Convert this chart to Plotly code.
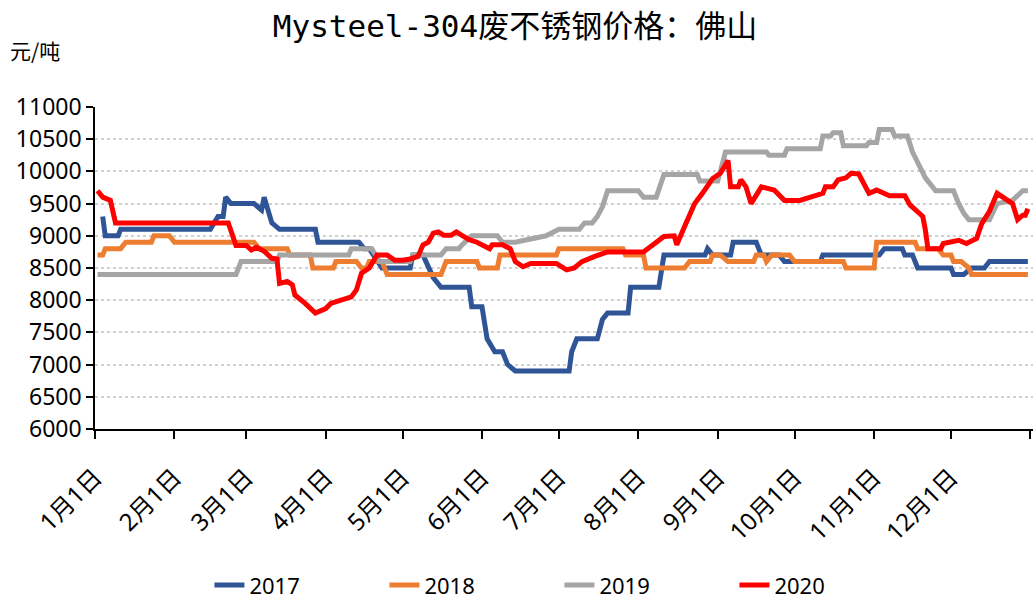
"""
Mysteel-304废不锈钢价格：佛山（2017-2020 同期对比）
"""

import plotly.graph_objects as go

# 各年份统一映射到同一(非闰)年，便于按月日对齐
AXIS_YEAR = 2001

DATES_2017 = [
    "01-04", "01-05", "01-10", "01-11", "02-15", "02-18", "02-20", "02-21",
    "02-23", "03-04", "03-07", "03-08", "03-11", "03-14", "03-28", "03-29",
    "04-14", "04-16", "04-18", "04-21", "04-23", "05-04", "05-05", "05-09",
    "05-13", "05-16", "05-27", "05-28", "06-01", "06-03", "06-06", "06-09",
    "06-11", "06-14", "07-05", "07-06", "07-08", "07-16", "07-18", "07-20",
    "07-28", "07-29", "08-09", "08-11", "08-27", "08-28", "08-30", "09-06",
    "09-07", "09-16", "09-18", "09-25", "09-27", "10-11", "10-12", "11-03",
    "11-05", "11-12", "11-13", "11-16", "11-18", "12-01", "12-02", "12-06",
    "12-09", "12-14", "12-16", "12-31",
]
PRICE_2017 = [
    9300, 9000, 9000, 9100, 9100, 9300, 9300, 9600,
    9500, 9500, 9400, 9600, 9200, 9100, 9100, 8900,
    8900, 8800, 8800, 8600, 8500, 8500, 8700, 8700,
    8350, 8200, 8200, 7900, 7900, 7400, 7200, 7200,
    7000, 6900, 6900, 7200, 7400, 7400, 7700, 7800,
    7800, 8200, 8200, 8700, 8700, 8800, 8700, 8700,
    8900, 8900, 8700, 8700, 8600, 8600, 8700, 8700,
    8800, 8800, 8700, 8700, 8500, 8500, 8400, 8400,
    8500, 8500, 8600, 8600,
]

DATES_2018 = [
    "01-02", "01-04", "01-05", "01-11", "01-13", "01-23", "01-24", "01-30",
    "02-01", "03-04", "03-06", "03-17", "03-18", "03-26", "03-27", "04-04",
    "04-05", "04-13", "04-15", "04-17", "04-18", "04-23", "04-25", "05-16",
    "05-18", "05-30", "05-31", "06-07", "06-08", "06-30", "07-01", "07-26",
    "07-27", "08-03", "08-04", "08-19", "08-21", "08-29", "08-30", "09-02",
    "09-05", "09-15", "09-16", "09-19", "09-20", "09-22", "09-29", "10-01",
    "10-20", "10-21", "11-01", "11-02", "11-17", "11-18", "11-26", "11-28",
    "12-01", "12-02", "12-05", "12-08", "12-09", "12-31",
]
PRICE_2018 = [
    8700, 8700, 8800, 8800, 8900, 8900, 9000, 9000,
    8900, 8900, 8800, 8800, 8700, 8700, 8500, 8500,
    8600, 8600, 8500, 8500, 8600, 8600, 8400, 8400,
    8600, 8600, 8500, 8500, 8700, 8700, 8800, 8800,
    8700, 8700, 8500, 8500, 8600, 8600, 8700, 8700,
    8600, 8600, 8700, 8700, 8600, 8700, 8700, 8600,
    8600, 8500, 8500, 8900, 8900, 8800, 8800, 8700,
    8700, 8600, 8600, 8500, 8400, 8400,
]

DATES_2019 = [
    "01-02", "02-25", "02-27", "03-13", "03-14", "04-10", "04-11", "04-19",
    "04-22", "05-04", "05-05", "05-16", "05-18", "05-23", "05-24", "05-28",
    "06-07", "06-09", "06-14", "06-21", "06-26", "07-01", "07-09", "07-11",
    "07-14", "07-16", "07-18", "07-20", "08-01", "08-03", "08-08", "08-11",
    "08-24", "08-25", "09-01", "09-04", "09-20", "09-21", "09-27", "09-28",
    "10-11", "10-12", "10-15", "10-16", "10-19", "10-20", "10-29", "10-30",
    "11-02", "11-03", "11-08", "11-09", "11-14", "11-16", "11-18", "11-21",
    "11-25", "12-02", "12-04", "12-06", "12-08", "12-16", "12-19", "12-25",
    "12-29", "12-31",
]
PRICE_2019 = [
    8400, 8400, 8600, 8600, 8700, 8700, 8800, 8800,
    8600, 8600, 8700, 8700, 8800, 8800, 8850, 9000,
    9000, 8900, 8900, 8950, 9000, 9100, 9100, 9200,
    9200, 9300, 9450, 9700, 9700, 9600, 9600, 9950,
    9950, 9850, 9850, 10300, 10300, 10250, 10250, 10350,
    10350, 10550, 10550, 10600, 10600, 10400, 10400, 10450,
    10450, 10650, 10650, 10550, 10550, 10300, 10150, 9900,
    9700, 9700, 9500, 9350, 9250, 9250, 9500, 9550,
    9700, 9700,
]

DATES_2020 = [
    "01-02", "01-04", "01-07", "01-09", "02-22", "02-25", "03-01", "03-03",
    "03-05", "03-08", "03-11", "03-13", "03-14", "03-17", "03-19", "03-20",
    "03-24", "03-28", "04-01", "04-03", "04-07", "04-11", "04-13", "04-15",
    "04-18", "04-21", "04-25", "04-28", "05-01", "05-04", "05-07", "05-09",
    "05-11", "05-13", "05-15", "05-17", "05-20", "05-22", "05-24", "05-27",
    "05-30", "06-01", "06-04", "06-05", "06-09", "06-12", "06-14", "06-17",
    "06-20", "06-30", "07-04", "07-07", "07-10", "07-15", "07-18", "07-20",
    "08-03", "08-07", "08-11", "08-15", "08-16", "08-19", "08-23", "08-26",
    "08-30", "09-02", "09-05", "09-06", "09-09", "09-10", "09-12", "09-14",
    "09-18", "09-23", "09-27", "10-03", "10-12", "10-13", "10-16", "10-18",
    "10-21", "10-23", "10-26", "10-30", "11-02", "11-07", "11-13", "11-15",
    "11-20", "11-21", "11-22", "11-27", "11-28", "12-04", "12-07", "12-11",
    "12-13", "12-16", "12-19", "12-25", "12-27", "12-29", "12-30", "12-31",
]
PRICE_2020 = [
    9700, 9600, 9550, 9200, 9200, 8850, 8850, 8780,
    8820, 8760, 8650, 8640, 8260, 8290, 8240, 8080,
    7950, 7800, 7870, 7950, 8000, 8050, 8160, 8420,
    8500, 8700, 8700, 8620, 8620, 8640, 8680, 8860,
    8900, 9040, 9060, 9010, 9010, 9060, 9010, 8940,
    8900, 8860, 8800, 8860, 8860, 8800, 8600, 8520,
    8570, 8570, 8470, 8500, 8600, 8680, 8730, 8750,
    8750, 8880, 8990, 9000, 8860, 9140, 9500, 9660,
    9890, 9970, 10170, 9760, 9760, 9870, 9760, 9500,
    9760, 9710, 9550, 9550, 9660, 9760, 9760, 9870,
    9900, 9970, 9960, 9660, 9710, 9620, 9620, 9480,
    9300, 9090, 8800, 8800, 8880, 8930, 8880, 8960,
    9190, 9380, 9660, 9500, 9250, 9320, 9320, 9420,
]

MONTH_TICKS = [
    "01-01", "02-01", "03-01", "04-01", "05-01", "06-01",
    "07-01", "08-01", "09-01", "10-01", "11-01", "12-01",
]

SERIES = [
    ("2017", DATES_2017, PRICE_2017, "#2F5597"),
    ("2018", DATES_2018, PRICE_2018, "#ED7D31"),
    ("2019", DATES_2019, PRICE_2019, "#A5A5A5"),
    ("2020", DATES_2020, PRICE_2020, "#FF0000"),
]


def _axis_dates(month_days: list) -> list:
    return [f"{AXIS_YEAR}-{md}" for md in month_days]


fig = go.Figure()
for name, dates, prices, color in SERIES:
    fig.add_trace(go.Scatter(
        x=_axis_dates(dates),
        y=prices,
        mode="lines",
        name=name,
        line=dict(color=color, width=5),
        hovertemplate="%{x|%m-%d}: %{y:.0f}<extra>" + name + "</extra>",
    ))

tick_vals = _axis_dates(MONTH_TICKS) + [f"{AXIS_YEAR + 1}-01-01"]
tick_text = [f"{int(md[:2])}月{int(md[3:])}日" for md in MONTH_TICKS] + [""]

fig.update_layout(
    width=1035,
    height=600,
    margin=dict(l=95, r=2, t=107, b=171, autoexpand=False),
    paper_bgcolor="white",
    plot_bgcolor="white",
    title=dict(
        text="Mysteel-304废不锈钢价格：佛山",
        x=0.4976,
        xanchor="center",
        xref="container",
        y=1 - 26 / 600,
        yanchor="middle",
        yref="container",
        font=dict(family="DejaVu Sans Mono, Noto Sans CJK SC", size=31, color="black"),
    ),
    legend=dict(
        orientation="h",
        x=0.122,
        xanchor="left",
        y=-0.485,
        yanchor="middle",
        entrywidth=130,
        font=dict(family="Noto Sans, Noto Sans CJK SC", size=22, color="black"),
    ),
    showlegend=True,
    font=dict(family="Noto Sans, Noto Sans CJK SC", color="black"),
)

fig.add_annotation(
    text="元/吨",
    xref="paper",
    yref="paper",
    x=-0.093,
    xanchor="left",
    y=1.177,
    yanchor="middle",
    showarrow=False,
    font=dict(family="Noto Sans CJK SC", size=21, color="black"),
)

fig.update_xaxes(
    type="date",
    automargin=False,
    range=[f"{AXIS_YEAR}-01-01", f"{AXIS_YEAR + 1}-01-02"],
    tickmode="array",
    tickvals=tick_vals,
    ticktext=tick_text,
    tickangle=-45,
    ticks="outside",
    ticklen=8,
    tickwidth=1.5,
    tickcolor="black",
    ticklabelstandoff=15,
    tickfont=dict(family="Noto Sans, Noto Sans CJK SC", size=24, color="black"),
    showline=True,
    linecolor="black",
    linewidth=1.5,
    showgrid=False,
    zeroline=False,
)
fig.update_yaxes(
    automargin=False,
    range=[6000, 11000],
    dtick=500,
    tickformat="d",
    ticks="outside",
    ticklen=7,
    tickwidth=1.5,
    tickcolor="black",
    tickfont=dict(family="Noto Sans, Noto Sans CJK SC", size=23, color="black"),
    showline=True,
    linecolor="black",
    linewidth=1.5,
    showgrid=True,
    gridcolor="#D0D0D0",
    gridwidth=1.5,
    griddash="dot",
    zeroline=False,
)

# 去掉页面默认 8px 边距，使图表与窗口左上角对齐
fig.write_html(
    "out.html",
    config={"displayModeBar": False},
    post_script="document.body.style.margin = '0';",
)
